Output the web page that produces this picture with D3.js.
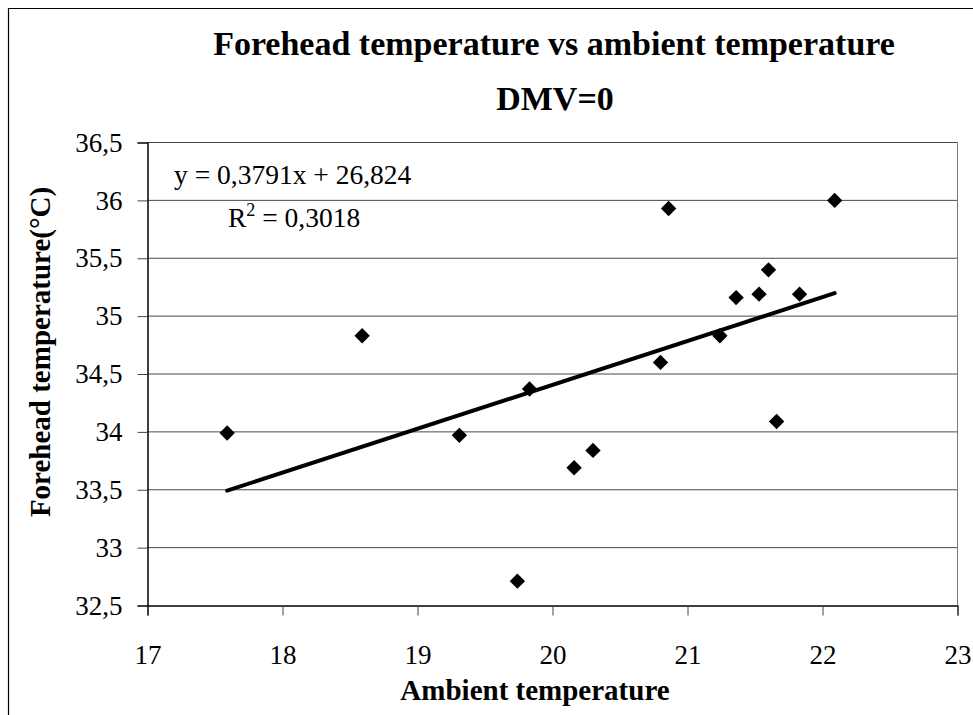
<!DOCTYPE html>
<html><head><meta charset="utf-8">
<script src="https://cdn.jsdelivr.net/npm/d3@7"></script>
<style>body{margin:0;background:#fff}svg{display:block}text{font-family:"Liberation Serif","Times New Roman",serif;fill:#000}</style>
</head><body>
<svg id="c" width="973" height="715"></svg>
<script>
const ambient  = [17.59, 18.59, 19.31, 19.74, 19.83, 20.16, 20.30, 20.80, 20.86, 21.24, 21.36, 21.53, 21.60, 21.66, 21.83, 22.09];
const forehead = [33.99, 34.83, 33.97, 32.71, 34.37, 33.69, 33.84, 34.60, 35.93, 34.83, 35.16, 35.19, 35.40, 34.09, 35.19, 36.00];
const xTicks = [17, 18, 19, 20, 21, 22, 23];
const yTicks = [32.5, 33, 33.5, 34, 34.5, 35, 35.5, 36, 36.5];
const slope = 0.3791, intercept = 26.824, r2 = "0,3018";
const titleLines = ["Forehead temperature vs ambient temperature", "DMV=0"];
const xTitle = "Ambient temperature";
const yTitle = "Forehead temperature(°C)";

const svg = d3.select("#c");
const L = 147.5, R = 957.5, T = 142.5, B = 605.5;
const x = d3.scaleLinear().domain([17, 23]).range([L, R]);
const y = d3.scaleLinear().domain([32.5, 36.5]).range([B, T]);
const fmt = v => String(v).replace(".", ",");

// outer frame
svg.append("path").attr("d", `M8.5,715 V8.5 H973`).attr("fill","none").attr("stroke","#000").attr("stroke-width",1.2);

// gridlines
svg.append("g").selectAll("line").data(yTicks.filter(v => v > 32.5)).join("line")
  .attr("x1", L).attr("x2", R).attr("y1", d => y(d)).attr("y2", d => y(d))
  .attr("stroke", "#4a4a4a").attr("stroke-width", 1);
// right plot border
svg.append("line").attr("x1", R).attr("x2", R).attr("y1", T).attr("y2", B).attr("stroke", "#777").attr("stroke-width", 1);

// axes
const xAxis = d3.axisBottom(x).tickValues(xTicks).tickSize(10).tickFormat(fmt);
const gx = svg.append("g").attr("transform", `translate(0,${B})`).call(xAxis);
const yAxis = d3.axisLeft(y).tickValues(yTicks).tickSize(10).tickPadding(15).tickFormat(fmt);
const gy = svg.append("g").attr("transform", `translate(${L},0)`).call(yAxis);
[gx, gy].forEach(g => {
  g.select(".domain").attr("stroke", "#000").attr("stroke-width", 1.5);
  g.selectAll(".tick line").attr("stroke", "#444");
  g.selectAll(".tick text").attr("font-family", "Liberation Serif").attr("font-size", 27).attr("fill", "#000");
});
gy.selectAll(".tick text").attr("dy", "0.32em");
gx.selectAll(".tick text").attr("y", 58).attr("dy", 0);
gx.selectAll(".tick line").filter(d => d === 23).attr("stroke", "#777");

// trendline
const xs = d3.extent(ambient);
svg.append("line")
  .attr("x1", x(xs[0])).attr("y1", y(slope * xs[0] + intercept))
  .attr("x2", x(xs[1])).attr("y2", y(slope * xs[1] + intercept))
  .attr("stroke", "#000").attr("stroke-width", 4).attr("stroke-linecap", "round");

// markers
const sym = d3.symbol().type(d3.symbolSquare).size(118);
svg.append("g").selectAll("path").data(ambient.map((a, i) => [a, forehead[i]])).join("path")
  .attr("d", sym)
  .attr("transform", d => `translate(${x(d[0])},${y(d[1])}) rotate(45)`)
  .attr("fill", "#000");

// titles
svg.append("text").attr("x", 554).attr("y", 55).attr("text-anchor", "middle")
  .attr("font-size", 34).attr("font-weight", "bold").text(titleLines[0]);
svg.append("text").attr("x", 555).attr("y", 110).attr("text-anchor", "middle")
  .attr("font-size", 34).attr("font-weight", "bold").text(titleLines[1]);
svg.append("text").attr("x", 535).attr("y", 700).attr("text-anchor", "middle")
  .attr("font-size", 29).attr("font-weight", "bold").text(xTitle);
svg.append("text").attr("transform", "translate(50,352) rotate(-90)").attr("text-anchor", "middle")
  .attr("font-size", 29).attr("font-weight", "bold").text(yTitle);

// equation
svg.append("text").attr("x", 174).attr("y", 184).attr("font-size", 27.5)
  .text(`y = ${fmt(slope)}x + ${fmt(intercept)}`);
const rt = svg.append("text").attr("x", 228).attr("y", 227).attr("font-size", 27.5);
rt.append("tspan").text("R");
rt.append("tspan").attr("dy", -11).attr("font-size", 18).text("2");
rt.append("tspan").attr("dy", 11).text(` = ${r2}`);
</script>
</body></html>
